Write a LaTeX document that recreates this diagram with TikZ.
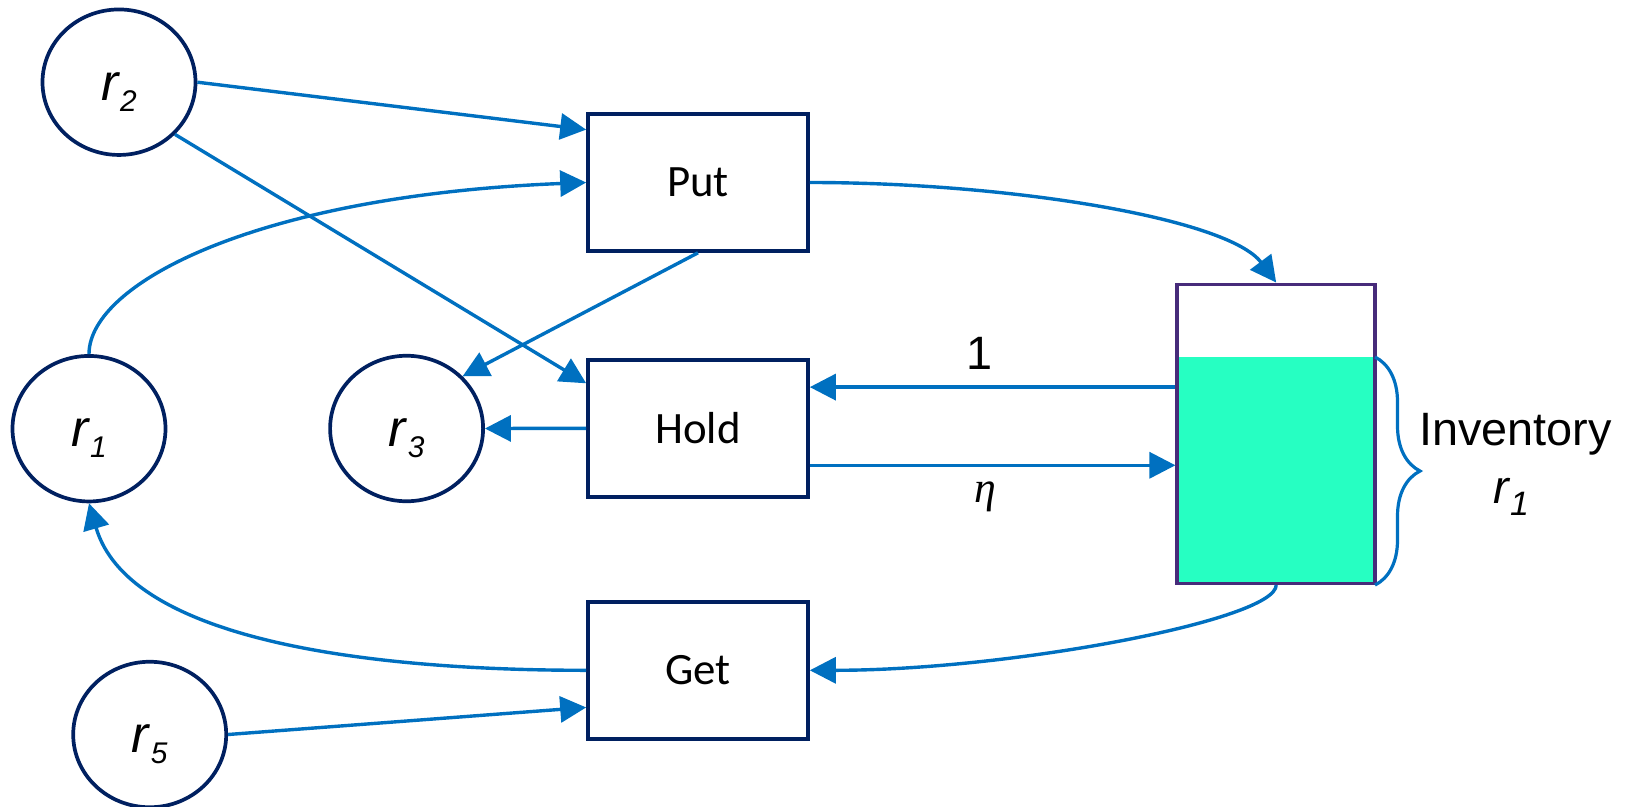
\documentclass[tikz,border=0pt]{standalone}
\usepackage{fontspec}
\setmainfont{Liberation Sans}
\newfontfamily\boxfont{Carlito}
\newfontfamily\greekfont{Liberation Serif}
\usetikzlibrary{arrows.meta,shapes.geometric,calc,decorations.pathreplacing}
\definecolor{navy}{HTML}{002060}
\definecolor{flow}{HTML}{0070C0}
\definecolor{tankedge}{HTML}{472B7A}
\definecolor{stock}{HTML}{26FFC2}
% resource symbol r with a lowered italic index: #1 index, #2 index size, #3 drop
\newcommand\resname[3]{\textit{r}\raisebox{-#3}{\fontsize{#2}{#2}\selectfont\textit{#1}}}

\begin{document}
\begin{tikzpicture}[x=1bp,y=-1bp,
  place/.style={ellipse, draw=navy, line width=3.7bp, minimum width=153bp,
    minimum height=145.5bp, inner sep=0pt, text height=36bp, text depth=0pt,
    font=\fontsize{52}{60}\selectfont},
  trans/.style={rectangle, draw=navy, line width=3.6bp, minimum width=220bp,
    minimum height=137bp, inner sep=0pt, font=\boxfont\fontsize{45}{54}\selectfont},
  tankbox/.style={rectangle, draw=tankedge, line width=3.5bp, minimum width=198bp,
    minimum height=299bp, inner sep=0pt},
  flowline/.style={draw=flow, line width=3.4bp, -{Triangle[length=26bp,width=26bp]}},
  bracestyle/.style={draw=flow, line width=3.2bp, decorate,
    decoration={brace, amplitude=45bp}},
  lbl/.style={font=\fontsize{47}{56}\selectfont, inner sep=0pt}
]
\useasboundingbox (0,0) rectangle (1625,807);

% places
\node[place] (r2) at (119,82.2) {\resname{2}{30}{11bp}};
\node[place] (r1) at (89,428.7) {\resname{1}{30}{11bp}};
\node[place] (r3) at (406.6,428.5) {\resname{3}{30}{11bp}};
\node[place] (r5) at (149.7,734.5) {\resname{5}{30}{11bp}};

% transitions
\node[trans] (put) at (698,182.5) {Put};
\node[trans] (hold) at (698,428.3) {Hold};
\node[trans] (get) at (698,670.3) {Get};

% inventory tank with its stock level
\coordinate (level) at (1375,357);
\fill[stock] (1177,357) rectangle (1375,583.3);
\node[tankbox] (tank) at (1276.2,433.8) {};

\draw[bracestyle] (level) -- (level |- tank.south);
\node[lbl, anchor=base] (invtxt) at (1515.5,445) {Inventory};
\node[lbl, anchor=base] (invsym) at (1511,503) {\resname{1}{34}{12bp}};

% arc attachment points on the transitions
\coordinate (putin) at ($(put.north west)!0.124!(put.south west)$);
\coordinate (holdin) at ($(hold.north west)!0.18!(hold.south west)$);
\coordinate (holdback) at ($(hold.north east)!0.207!(hold.south east)$);
\coordinate (holdout) at ($(hold.north east)!0.763!(hold.south east)$);
\coordinate (getin) at ($(get.south west)!0.236!(get.north west)$);

% arcs
\draw[flowline] (r2.east) -- (putin);
\draw[flowline] (r2.-43) -- (holdin);
\draw[flowline] (r1.north) .. controls +(0,-71) and +(-328,13) .. (put.west);
\draw[flowline] (put.south) -- (r3.43);
\draw[flowline] (hold.west) -- (r3.east);
\draw[flowline] (put.east) .. controls +(200,0) and +(-48,-64) .. (tank.north);
\draw[flowline] (tank.west |- holdback) -- (holdback);
\draw[flowline] (holdout) -- (tank.west |- holdout);
\draw[flowline] (tank.south) .. controls +(0,35) and +(200,0) .. (get.east);
\draw[flowline] (get.west) .. controls +(-230,0) and +(39,134) .. (r1.south);
\draw[flowline] (r5.east) -- (getin);

% arc weights
\node[lbl, anchor=base] (one) at (980,369) {1};
\node[font=\greekfont\itshape\fontsize{44}{50}\selectfont, inner sep=0pt,
  anchor=base] (eta) at (985,502) {η};
\end{tikzpicture}
\end{document}
